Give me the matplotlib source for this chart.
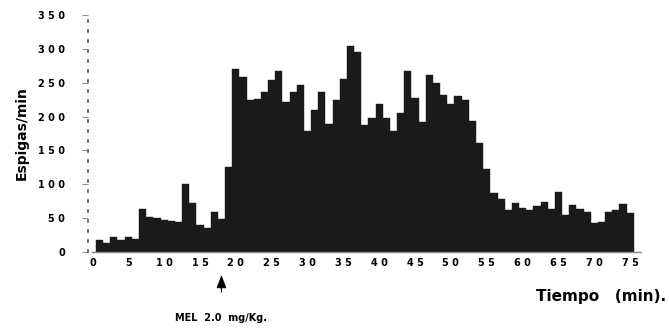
import matplotlib
matplotlib.use("Agg")
import matplotlib.pyplot as plt
import numpy as np

minutes = list(range(1, 76))
espigas = [17, 13, 22, 17, 22, 19, 64, 52, 50, 47, 46, 45, 101, 72, 40, 36, 59, 48, 125,
           270, 258, 224, 226, 236, 254, 268, 222, 236, 247, 179, 210, 237, 189, 225, 255,
           304, 295, 188, 198, 218, 198, 179, 205, 267, 227, 192, 262, 250, 232, 219, 230,
           224, 193, 161, 122, 87, 79, 62, 73, 65, 62, 68, 74, 63, 89, 54, 70, 64, 59, 43,
           45, 59, 62, 71, 58]
xtick_vals = list(range(0, 80, 5))
xtick_labels = [" ".join(str(v)) for v in xtick_vals]
ytick_vals = list(range(0, 400, 50))
ytick_labels = [" ".join(str(v)) for v in ytick_vals]
mel_time = 18

plt.rcParams['font.family'] = ['DejaVu Sans']
fig = plt.figure(figsize=(6.69, 3.31), dpi=100)
ax = fig.add_axes([92.4 / 669, 1 - 252 / 331, 548.5 / 669, 237 / 331])

ax.bar(minutes, espigas, width=1.0, color="#1a1a1a", edgecolor="#1a1a1a", linewidth=0.3)
ax.set_xlim(0, 76.5)
ax.set_ylim(0, 350)

for s in ["top", "right"]:
    ax.spines[s].set_visible(False)
ax.spines["bottom"].set_color("#888888")
ax.spines["bottom"].set_linewidth(1.0)
ax.spines["left"].set_linestyle((0, (1.2, 4.8)))
ax.spines["left"].set_color("#555555")
ax.spines["left"].set_linewidth(1.2)
ax.spines["left"].set_position(("outward", 3))

ax.set_xticks(xtick_vals)
ax.set_xticklabels(xtick_labels, fontsize=7, fontweight="bold")
ax.tick_params(axis="x", length=0, pad=4)
ax.set_yticks(ytick_vals)
ax.set_yticklabels(ytick_labels, fontsize=7, fontweight="bold")
ax.tick_params(axis="y", length=4, width=0.6, color="#777777", pad=12.5)

ax.set_ylabel("Espigas/min", fontsize=10, fontweight="bold", labelpad=7)
fig.text(0.995, 1 - 296 / 331, "Tiempo   (min).", ha="right", va="center",
         fontsize=11, fontweight="bold")
ax.annotate("", xy=(mel_time, -0.097 * 350), xytext=(mel_time, -0.169 * 350),
            annotation_clip=False,
            arrowprops=dict(arrowstyle="-|>,head_length=0.8,head_width=0.3",
                            color="black", lw=0.8, shrinkA=0, shrinkB=0))
ax.text(mel_time, -0.279 * 350, "MEL  2.0  mg/Kg.", ha="center", va="center",
        fontsize=7, fontweight="bold", clip_on=False)

fig.savefig("out.png", dpi=100)
